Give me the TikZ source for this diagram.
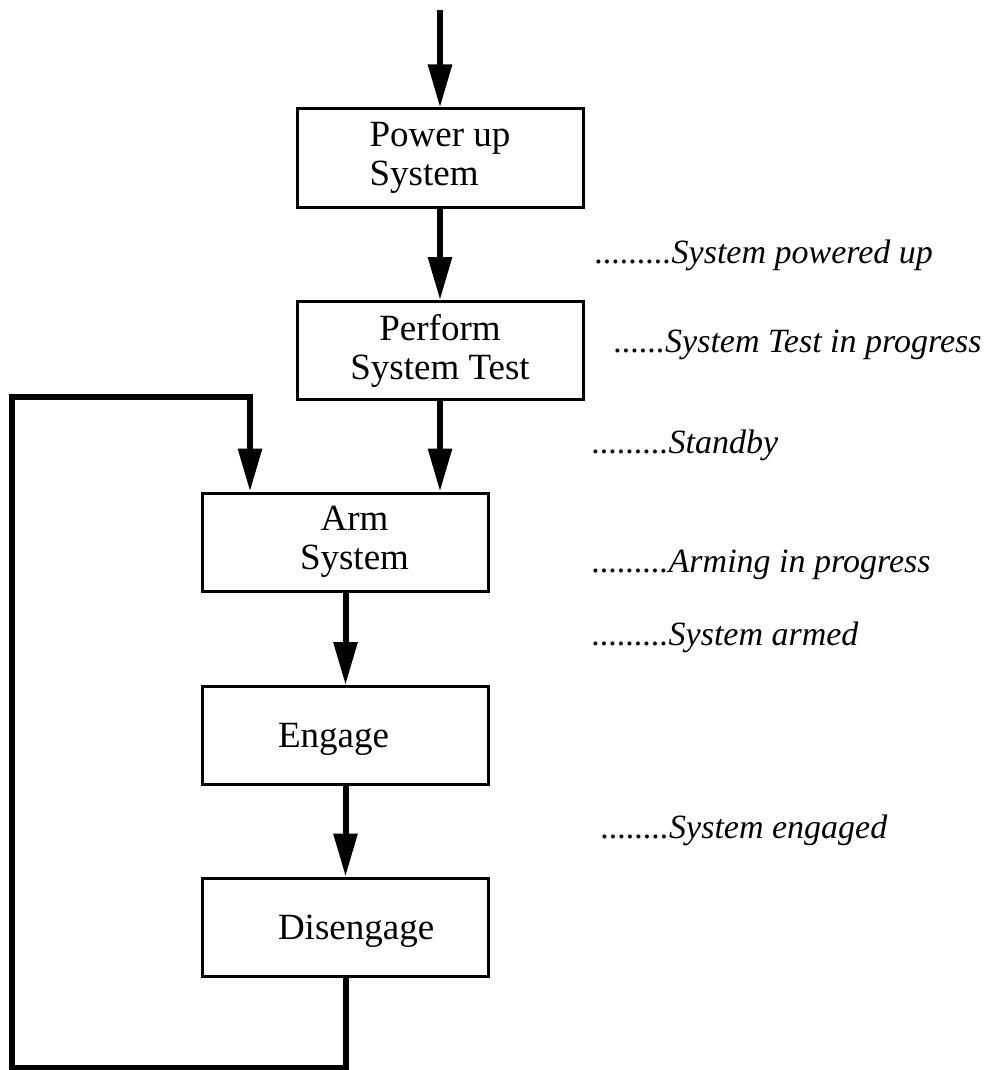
\documentclass[tikz,border=0pt]{standalone}
\usepackage{fontspec}
\setmainfont{Liberation Serif}
\usetikzlibrary{arrows.meta}
\begin{document}
\begin{tikzpicture}[x=1pt,y=-1pt,
  stepbox/.style={draw, line width=3pt, minimum width=286pt, minimum height=98pt,
    inner sep=0pt, align=center, font=\fontsize{37}{39}\selectfont},
  wordbox/.style={stepbox, align=left, text width=135pt, text depth=0pt},
  flow/.style={line width=6pt, line join=miter,
    -{Triangle[length=43pt 0 0,width=23pt 0 0]}},
  status/.style={anchor=west, inner sep=0pt, font=\itshape\fontsize{34}{40}\selectfont}]
\useasboundingbox (0,0) rectangle (987,1070);

% process steps
\node[stepbox, align=left] (power) at (440,158) {Power up\\System};
\node[stepbox] (test) at (440,350.5) {Perform\\System Test};
\node[stepbox] (arm)  at (345.5,542) {\hspace*{18pt}Arm\\\hspace*{18pt}System};
\node[wordbox] (eng)  at (345.5,735.5) {Engage};
\node[wordbox] (dis)  at (345.5,927) {Disengage};

% status annotations
\node[status] (s1) at (595,255) {.........System powered up};
\node[status] (s2) at (614,345) {......System Test in progress};
\node[status] (s3) at (592,445) {.........Standby};
\node[status] (s4) at (592,565) {.........Arming in progress};
\node[status] (s5) at (592,637) {.........System armed};
\node[status] (s6) at (601,830) {........System engaged};

% entry
\coordinate (start) at (440,10);
\draw[flow] (start) -- (power.north);

% main sequence
\draw[flow] (power.south) -- (test.north);
\draw[flow] (test.south) -- (test.south |- arm.north);
\draw[flow] (arm.south) -- (eng.north);
\draw[flow] (eng.south) -- (dis.north);

% return loop from Disengage back to Arm System
\coordinate (c1) at (345.5,1068);
\coordinate (c2) at (12,1068);
\coordinate (c3) at (12,397);
\coordinate (c4) at (250,397);
\draw[flow] (dis.south) -- (c1) -- (c2) -- (c3) -- (c4) -- (c4 |- arm.north);
\end{tikzpicture}
\end{document}
